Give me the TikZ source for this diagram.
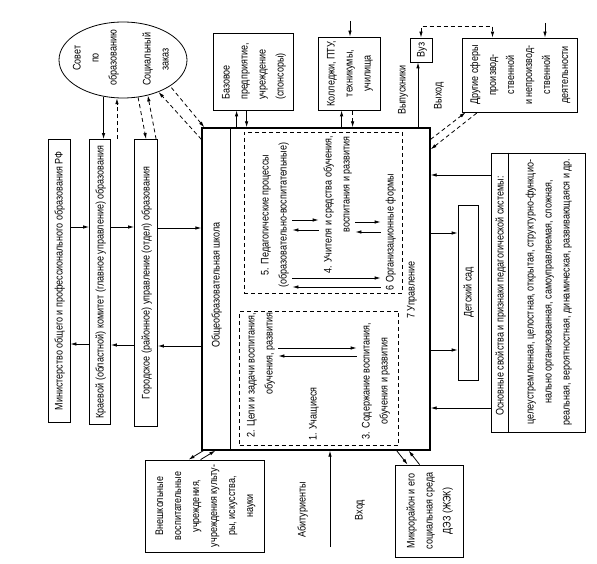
\documentclass[tikz,border=0pt]{standalone}
\usepackage{fontspec}
\setmainfont{Liberation Sans}[FakeStretch=0.82]
\usepackage{graphicx}
\usetikzlibrary{arrows.meta,shapes.geometric}

% vertical (rotated) text block
\newcommand{\vt}[2][c]{\rotatebox{90}{\begin{tabular}{@{}#1@{}}#2\end{tabular}}}

\tikzset{
  >={Latex[length=6pt,width=3.5pt]},
  box/.style={draw, thick, inner sep=0pt},
  dsh/.style={dash pattern=on 4pt off 3pt},
  txt/.style={inner sep=0pt},
}

\begin{document}
\begin{tikzpicture}[x=1pt, y=-1pt, thick, font=\fontsize{11}{18}\selectfont]
\useasboundingbox (0,0) rectangle (597,564);

    % Council
    \node[box, ellipse, minimum width=128pt, minimum height=76pt] (sovet) at (123,60) {};
    \node[txt] (sovettxt) at (121,58) {\vt{Совет\\по\\образованию}\hspace{16pt}\vt{Социальный\\заказ}};

    % Management levels
    \node[box, minimum width=22pt, minimum height=283pt] (minist) at (59,281)
        {\vt{Министерство общего и профессионального образования РФ}};
    \node[box, minimum width=21pt, minimum height=285pt] (kraev) at (100,282)
        {\vt{Краевой (областной) комитет (главное управление) образования}};
    \node[box, minimum width=23pt, minimum height=287pt] (gorod) at (146,283)
        {\vt{Городское (районное) управление (отдел) образования}};

    % School
    \node[box, line width=1.3pt, minimum width=228pt, minimum height=322pt] (school) at (316,289) {};
    \draw[line width=1.3pt] ([xshift=29pt]school.north west) -- ([xshift=29pt]school.south west);
    \node[txt] (schooltitle) at (216,285) {\vt{Общеобразовательная школа}};
    \node[draw, dsh, minimum width=158pt, minimum height=161pt] (upper) at (323,212.5) {};
    \node[draw, dsh, minimum width=159pt, minimum height=134pt] (lower) at (319,378) {};

    % Components
    \node[txt] (p5) at (274,215) {\vt{5. Педагогические процессы\\(образовательно-воспитательные)}};
    \node[txt] (p4) at (337,205) {\vt[r]{4. Учителя и средства обучения,\\воспитания и развития}};
    \node[txt] (p6) at (390,232) {\vt{6 Организационные формы}};
    \node[txt] (p7) at (411,290) {\vt{7 Управление}};
    \node[txt] (p2) at (260,375) {\vt[r]{2. Цели и задачи воспитания,\\обучения, развития}};
    \node[txt] (p1) at (313,414) {\vt{1. Учащиеся}};
    \node[txt] (p3) at (375,381) {\vt{3. Содержание воспитания,\\обучения и развития}};

    \draw[->] (p5.east |- 0,220) -- (p4.west |- 0,220);
    \draw[<-] (p5.east |- 0,230) -- (p4.west |- 0,230);
    \draw[->] (p4.east |- 0,222) -- (p6.west |- 0,222);
    \draw[<-] (p4.east |- 0,232) -- (p6.west |- 0,232);
    \draw[->] (p5.east |- 0,278) -- (p6.west |- 0,278);
    \draw[<-] (p5.east |- 0,287) -- (p6.west |- 0,287);
    \draw[->] (p2.east |- 0,348) -- (p3.west |- 0,348);
    \draw[<-] (p2.east |- 0,356) -- (p3.west |- 0,356);

    % Partners on top
    \node[box, minimum width=80pt, minimum height=77pt] (bazov) at (253,71.5)
        {\vt[l]{Базовое\\предприятие,\\учреждение\\(спонсоры)}};
    \node[box, minimum width=62pt, minimum height=73pt] (koll) at (349,73.5)
        {\vt{Колледжи, ПТУ,\\техникумы,\\училища}};
    \node[box, minimum width=22pt, minimum height=24pt] (vuz) at (421,50) {\vt{Вуз}};
    \node[box, minimum width=115pt, minimum height=74pt] (drugie) at (519.5,75)
        {\vt{Другие сферы\\производ-\\ственной\\и непроизвод-\\ственной\\деятельности}};
    \node[txt] (vypusk) at (402,90) {\vt{Выпускники}};
    \node[txt] (vyhod) at (438,96) {\vt{Выход}};

    % Right side
    \node[box, minimum width=20pt, minimum height=175pt] (sad) at (468,292.5) {\vt{Детский сад}};
    \node[box, minimum width=94pt, minimum height=279pt] (svoi) at (538,292.5) {};
    \draw ([xshift=18pt]svoi.north west) -- ([xshift=18pt]svoi.south west);
    \node[txt] (svoititle) at (500,296) {\vt{Основные свойства и признаки педагогической системы:}};
    \node[txt] (svoitxt) at (548,292) {\vt{целеустремленная, целостная, открытая, структурно-функцио-\\
        нально организованная, самоуправляемая, сложная,\\
        реальная, вероятностная, динамическая, развивающаяся и др.}};

    % Bottom
    \node[box, minimum width=119pt, minimum height=92pt] (vnesh) at (204.5,506)
        {\vt{Внешкольные\\воспитательные\\учреждения,\\учреждения культу-\\ры, искусства,\\науки}};
    \node[box, minimum width=68pt, minimum height=92pt] (mikro) at (429,511)
        {\vt{Микрорайон и его\\социальная среда\\ДЭЗ (ЖЭК)}};
    \node[txt] (abit) at (302,510) {\vt{Абитуриенты}};
    \node[txt] (vhod) at (359,510) {\vt{Вход}};

    % Links of management
    \draw[->] (minist.east |- 0,227) -- (kraev.west |- 0,227);
    \draw[->] (kraev.east |- 0,227) -- (gorod.west |- 0,227);
    \draw[->] (gorod.east |- 0,228) -- (school.west |- 0,228);
    \draw[<-] (minist.east |- 0,344) -- (kraev.west |- 0,344);
    \draw[<-] (kraev.east |- 0,345) -- (gorod.west |- 0,345);
    \draw[<-] (gorod.east |- 0,346) -- (school.west |- 0,346);

    % Links of the council
    \draw[->] (sovet.242) -- (sovet.242 |- kraev.north);
    \draw[->, dsh] (sovet.261 |- kraev.north) -- (sovet.261);
    \draw[->, dsh] (sovet.292) -- ([xshift=12pt]gorod.north west);
    \draw[<-, dsh] (sovet.305) -- ([xshift=22pt]gorod.north west);
    \draw[->, dsh] ([yshift=-12pt]school.north west) -- (sovet.318);
    \draw[<-, dsh] ([xshift=3pt]school.north west) -- (sovet.331);

    % Links on top
    \draw[->] ([xshift=24pt]bazov.south west |- school.north) -- ([xshift=24pt]bazov.south west);
    \draw[<-] ([xshift=34pt]bazov.south west |- school.north) -- ([xshift=34pt]bazov.south west);
    \draw[->] ([xshift=24pt]koll.south west |- school.north) -- ([xshift=24pt]koll.south west);
    \draw[<-, dsh] ([xshift=35pt]koll.south west |- school.north) -- ([xshift=35pt]koll.south west);
    \coordinate (koll0) at (350,21);
    \draw[->] (koll0) -- (koll0 |- koll.north);
    \draw[->] ([xshift=-3pt]vuz.south |- school.north) -- ([xshift=-3pt]vuz.south);
    \draw[<->, dsh] (vuz.north) -- ++(0,-11) -| ([xshift=-27pt]drugie.north);
    \coordinate (drug0) at (545,23);
    \draw[->] (drug0) -- (drug0 |- drugie.north);
    \draw[->, dsh] ([yshift=-12pt]school.north east) -- ([xshift=4pt]drugie.south west);
    \draw[<-, dsh] ([yshift=-22pt]school.north east) -- ([xshift=16pt]drugie.south west);

    % Links on the right
    \draw[->] (svoi.west |- 0,175) -- (school.east |- 0,175);
    \draw[->] (svoi.west |- 0,408) -- (school.east |- 0,408);
    \draw[->] (school.east |- 0,233) -- (sad.west |- 0,233);
    \draw[->] (school.east |- 0,350) -- (sad.west |- 0,350);

    % Links at the bottom
    \draw[<-] ([xshift=44pt]vnesh.north west) -- ([xshift=2pt]school.south west);
    \draw[->] ([xshift=56pt]vnesh.north west) -- ([xshift=14pt]school.south west);
    \draw[->] ([xshift=-34pt]school.south east) -- ([xshift=13pt]mikro.north west);
    \draw[<-] ([xshift=-22pt]school.south east) -- ([xshift=25pt]mikro.north west);
    \coordinate (abit0) at (330,547);
    \draw[->] (abit0) -- (abit0 |- school.south);

\end{tikzpicture}
\end{document}
